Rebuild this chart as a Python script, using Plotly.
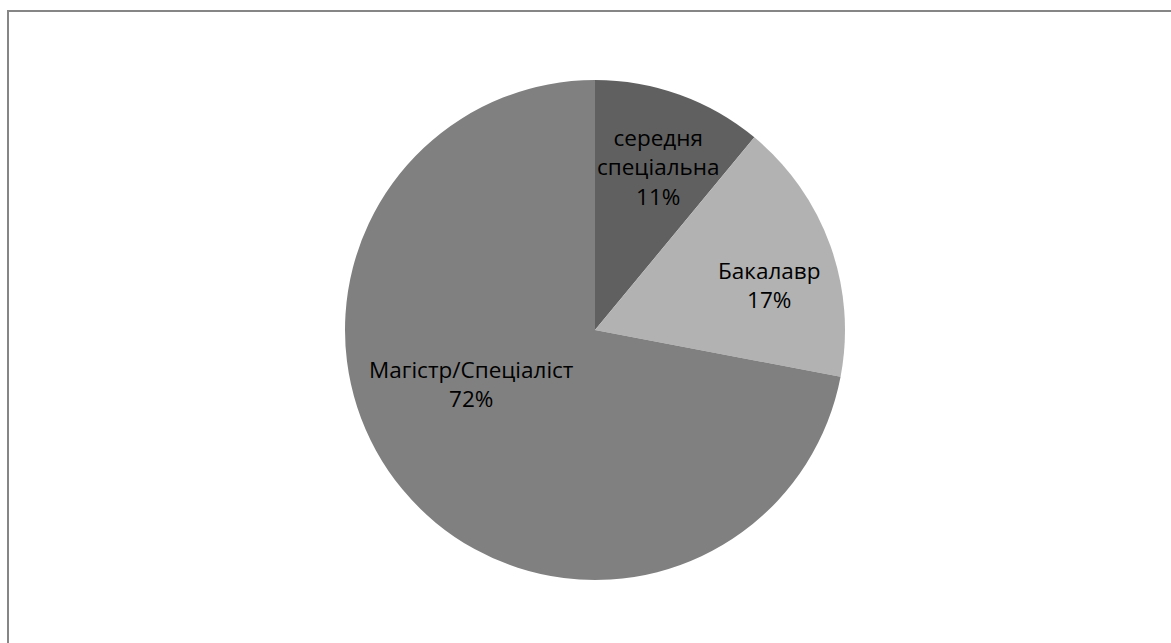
import math
import plotly.graph_objects as go

W, H = 1171, 643

labels = ["середня спеціальна", "Бакалавр", "Магістр/Спеціаліст"]
label_lines = ["середня<br>спеціальна", "Бакалавр", "Магістр/Спеціаліст"]
values = [11, 17, 72]
colors = ["#606060", "#b2b2b2", "#808080"]

# pie geometry in pixels
cx, cy, r = 595, 330, 250
# label placement: angle shift (deg) and radius fraction per slice
label_shift = [1.5, 5.4, 16.2]
label_rfrac = [0.70, 0.72, 0.54]

fig = go.Figure(go.Pie(
    labels=labels,
    values=values,
    sort=False,
    direction="clockwise",
    rotation=0,
    marker=dict(colors=colors, line=dict(width=0)),
    textinfo="none",
    showlegend=False,
    hoverinfo="label+percent",
    domain=dict(x=[(cx - r) / W, (cx + r) / W],
                y=[(H - cy - r) / H, (H - cy + r) / H]),
))

total = sum(values)
cum = 0
for name, v, dth, rf in zip(label_lines, values, label_shift, label_rfrac):
    mid = (cum + v / 2) / total * 360 + dth
    cum += v
    px = cx + rf * r * math.sin(math.radians(mid))
    py = cy - rf * r * math.cos(math.radians(mid))
    fig.add_annotation(
        x=px / W, y=1 - py / H, xref="paper", yref="paper",
        text=f"{name}<br>{round(v / total * 100)}%",
        showarrow=False, xanchor="center", yanchor="middle",
        font=dict(family="Open Sans, Noto Sans, sans-serif", size=22.5, color="#000000"),
    )

fig.add_shape(type="rect", xref="paper", yref="paper",
              x0=8 / W, x1=1.02, y0=-0.02, y1=(H - 11) / H,
              line=dict(color="#868686", width=2), fillcolor="rgba(0,0,0,0)")

fig.update_layout(
    width=W, height=H,
    margin=dict(l=0, r=0, t=0, b=0),
    paper_bgcolor="white",
    plot_bgcolor="white",
)

fig.write_html("out.html")
